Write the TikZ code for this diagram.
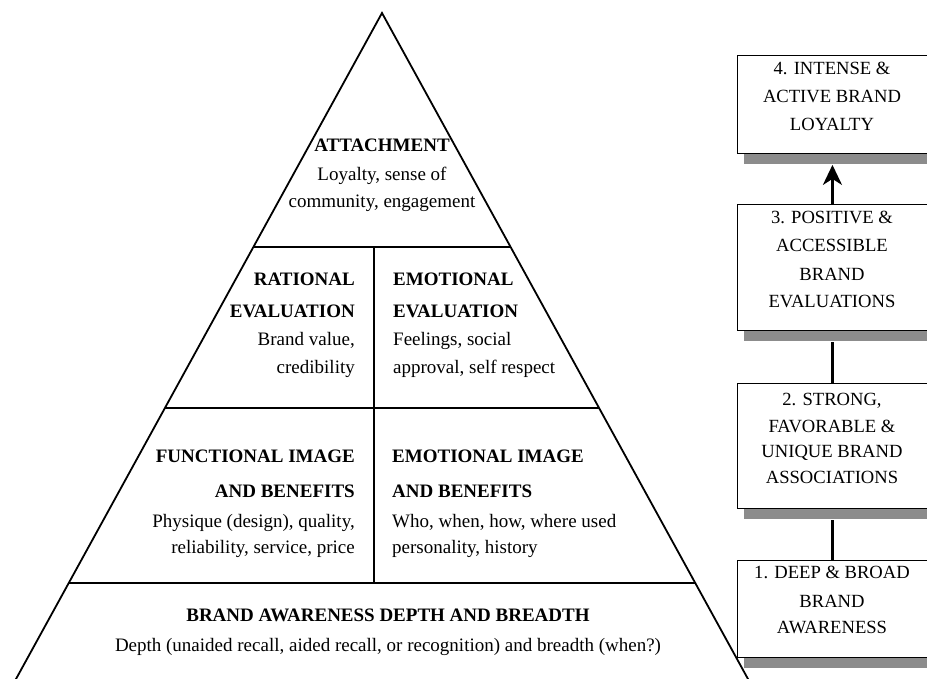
\documentclass[tikz,border=0pt]{standalone}
\usepackage{fontspec}
\setmainfont{Liberation Serif}
\usetikzlibrary{arrows.meta,calc,shadows}
\begin{document}
\begin{tikzpicture}[x=1pt,y=-1pt,
  side/.style={line width=1.8pt},
  divider/.style={line width=2.6pt},
  ptext/.style={font=\fontsize{19}{27}\selectfont, inner sep=0pt},
  btext/.style={font=\fontsize{18.6}{28}\selectfont, inner sep=0pt, align=center},
  stagebox/.style={draw, line width=0.9pt, fill=white, minimum width=192pt,
    inner sep=0pt, anchor=north west,
    drop shadow={shadow xshift=7pt, shadow yshift=-11pt, fill=black!45, opacity=1}},
  link/.style={line width=2.6pt},
]
\useasboundingbox (0,0) rectangle (927,679);
\clip (0,0) rectangle (927,679);
\fill[white] (0,0) rectangle (927,679);

% pyramid outline
\coordinate (apex) at (382,13);
\coordinate (bl) at (16,679);
\coordinate (br) at (748,679);
\draw[side] ($(apex)!1.05!(bl)$) -- (apex) -- ($(apex)!1.05!(br)$);

% tiers
\coordinate (l1) at ($(apex)!0.3514!(bl)$);
\coordinate (r1) at ($(apex)!0.3514!(br)$);
\coordinate (l2) at ($(apex)!0.5931!(bl)$);
\coordinate (r2) at ($(apex)!0.5931!(br)$);
\coordinate (l3) at ($(apex)!0.8559!(bl)$);
\coordinate (r3) at ($(apex)!0.8559!(br)$);
\draw[divider] (l1) -- (r1);
\draw[divider] (l2) -- (r2);
\draw[divider] (l3) -- (r3);
\coordinate (d1) at (374,247);
\coordinate (d2) at (374,583);
\draw[divider] (d1) -- (d2);

% tier texts (anchored at the baseline of their last line)
\node[ptext, align=center, anchor=base] (attach) at (382,208)
  {\textbf{ATTACHMENT}\\[2pt]Loyalty, sense of\\community, engagement};
\node[ptext, align=right, anchor=base east] (rational) at (355,373)
  {\textbf{RATIONAL}\\[5pt]\textbf{EVALUATION}\\[1pt]Brand value,\\[1pt]credibility};
\node[ptext, align=left, anchor=base west] (emoeval) at (393,373)
  {\textbf{EMOTIONAL}\\[5pt]\textbf{EVALUATION}\\[1pt]Feelings, social\\[1pt]approval, self respect};
\node[ptext, align=right, anchor=base east] (funcimg) at (355,553)
  {\textbf{FUNCTIONAL IMAGE}\\[8pt]\textbf{AND BENEFITS}\\[3pt]Physique (design), quality,\\[-1pt]reliability, service, price};
\node[ptext, align=left, anchor=base west] (emoimg) at (392,553)
  {\textbf{EMOTIONAL IMAGE}\\[8pt]\textbf{AND BENEFITS}\\[3pt]Who, when, how, where used\\[-1pt]personality, history};
\node[ptext, align=center, anchor=base] (aware) at (388,651)
  {\textbf{BRAND AWARENESS DEPTH AND BREADTH}\\[3pt]Depth (unaided recall, aided recall, or recognition) and breadth (when?)};

% stage boxes
\node[stagebox, minimum height=98pt] (s4) at (737,55) {};
\node[stagebox, minimum height=126pt] (s3) at (737,204) {};
\node[stagebox, minimum height=125pt] (s2) at (737,383) {};
\node[stagebox, minimum height=97pt] (s1) at (737,560) {};

\node[btext, anchor=base] (t4) at (832,131) {4. INTENSE \&\\ACTIVE BRAND\\LOYALTY};
\node[btext, anchor=base] (t3) at (832,308) {3. POSITIVE \&\\[1pt]ACCESSIBLE\\BRAND\\EVALUATIONS};
\node[btext, anchor=base] (t2) at (832,483) {2. STRONG,\\[-1pt]FAVORABLE \&\\[-3pt]UNIQUE BRAND\\[-2pt]ASSOCIATIONS};
\node[btext, anchor=base] (t1) at (832,633) {1. DEEP \& BROAD\\[1pt]BRAND\\[-2pt]AWARENESS};

% links between the stages
\coordinate (s4sh) at ($(s4.south)+(-1,11)$);
\coordinate (s3sh) at ($(s3.south)+(-1,11)$);
\coordinate (s2sh) at ($(s2.south)+(-1,11)$);
\draw[link, -{Stealth[length=20pt,width=19pt,inset=6pt]}] (s3.north -| s4sh) -- (s4sh);
\draw[link] (s2.north -| s3sh) -- (s3sh);
\draw[link] (s1.north -| s2sh) -- (s2sh);
\end{tikzpicture}
\end{document}
